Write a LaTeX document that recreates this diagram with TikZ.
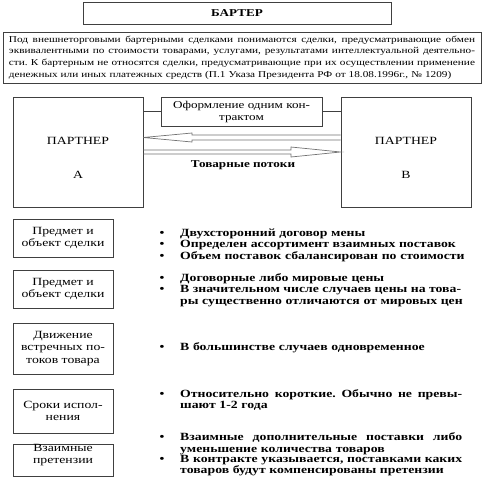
\documentclass[tikz,border=0pt]{standalone}
\usepackage{fontspec}
\setmainfont{Liberation Serif}[FakeStretch=1.25]
\newcommand{\jl}[2]{\makebox[#1][s]{\frenchspacing\spaceskip=\fontdimen2\font plus 1fil\relax #2}}
\begin{document}
\begin{tikzpicture}[x=1pt,y=-1pt,
  box/.style={draw=black!75, line width=0.8pt, inner sep=0pt, font=\fontsize{11}{12}\selectfont, align=center},
  txt/.style={inner sep=0pt, font=\fontsize{11}{12}\selectfont, align=center},
  btxt/.style={inner sep=0pt, font=\fontsize{11}{11.5}\selectfont\bfseries, anchor=base west, text width=300pt, align=left},
  bdot/.style={inner sep=0pt, font=\fontsize{11}{12}\selectfont\bfseries, anchor=base},
  conn/.style={draw=black!75, line width=0.8pt},
  flow/.style={draw=black!55, line width=0.7pt, line join=miter},
]
\useasboundingbox[fill=white] (0,0) rectangle (493,479);

% title
\node[box, minimum width=308pt, minimum height=22pt, font=\fontsize{10.5}{12}\selectfont\bfseries] (title) at (237,13) {БАРТЕР};

% definition
\node[box, minimum width=478pt, minimum height=51pt, text width=466pt, align=left, font=\fontsize{9}{11.6}\selectfont] (def) at (242,57.5)
{\jl{466pt}{Под внешнеторговыми бартерными сделками понимаются сделки, предусматривающие обмен}\\
\jl{466pt}{эквивалентными по стоимости товарами, услугами, результатами интеллектуальной деятельно-}\\
\jl{466pt}{сти. К бартерным не относятся сделки, предусматривающие при их осуществлении применение}\\
денежных или иных платежных средств (П.1 Указа Президента РФ от 18.08.1996г., № 1209)};

% partners
\node[box, minimum width=130pt, minimum height=110pt] (pA) at (78,152) {};
\node[box, minimum width=130pt, minimum height=110pt] (pB) at (406,152) {};
\node[txt] (pA1) at (78,141) {ПАРТНЕР};
\node[txt] (pA2) at (78,175) {А};
\node[txt] (pB1) at (406,141) {ПАРТНЕР};
\node[txt] (pB2) at (406,175) {В};

% contract
\node[box, minimum width=161pt, minimum height=29pt, font=\fontsize{10.5}{12}\selectfont] (contract) at (241.5,111.5) {Оформление одним кон-\\трактом};
\draw[conn] (contract.west) -- (contract.west -| pA.east);
\draw[conn] (contract.east) -- (contract.east -| pB.west);

% flows
\coordinate (ut) at (pA.east |- 0,137.5);
\coordinate (lt) at (pB.west |- 0,152);
\draw[flow] (pB.west |- 0,135) -- (192,135) -- (192,133) -- (ut) -- (192,142) -- (192,140) -- (pB.west |- 0,140);
\draw[flow] (pA.east |- 0,150) -- (291,150) -- (291,147) -- (lt) -- (291,157) -- (291,154) -- (pA.east |- 0,154);
\node[txt, font=\fontsize{10.5}{12}\selectfont\bfseries] (flowlbl) at (243,165) {Товарные потоки};

% rows
\node[box, minimum width=100pt, minimum height=38pt] (r1) at (63,238) {Предмет и\\объект сделки};
\node[box, minimum width=100pt, minimum height=38pt] (r2) at (63,289) {Предмет и\\объект сделки};
\node[box, minimum width=100pt, minimum height=51pt, font=\fontsize{11}{12.5}\selectfont] (r3) at (63,348.5) {Движение\\встречных по-\\токов товара};
\node[box, minimum width=100pt, minimum height=44pt] (r4) at (63,411) {Сроки испол-\\нения};
\node[box, minimum width=100pt, minimum height=32pt] (r5) at (63,460) {};
\node[txt] (r5t) at (63,455.5) {Взаимные\\претензии};

% bullets row 1
\node[bdot] (d11) at (162,236) {•};
\node[btxt] (b11) at (180,236) {Двухсторонний договор мены};
\node[bdot] (d12) at (162,247.5) {•};
\node[btxt] (b12) at (180,247.5) {Определен ассортимент взаимных поставок};
\node[bdot] (d13) at (162,259) {•};
\node[btxt] (b13) at (180,259) {Объем поставок сбалансирован по стоимости};

% bullets row 2
\node[bdot] (d21) at (162,281) {•};
\node[btxt] (b21) at (180,281) {Договорные либо мировые цены};
\node[bdot] (d22) at (162,292.5) {•};
\node[btxt] (b22) at (180,292.5) {\jl{280pt}{В значительном числе случаев цены на това-}\\ры существенно отличаются от мировых цен};

% bullets row 3
\node[bdot] (d31) at (162,350) {•};
\node[btxt] (b31) at (180,350) {В большинстве случаев одновременное};

% bullets row 4
\node[bdot] (d41) at (162,397) {•};
\node[btxt] (b41) at (180,397) {\jl{282pt}{Относительно короткие. Обычно не превы-}\\шают 1-2 года};

% bullets row 5
\node[bdot] (d51) at (162,440.5) {•};
\node[btxt] (b51) at (180,440.5) {\jl{282pt}{Взаимные дополнительные поставки либо}\\уменьшение количества товаров};
\node[bdot] (d52) at (162,462) {•};
\node[btxt] (b52) at (180,462) {\jl{282pt}{В контракте указывается, поставками каких}\\товаров будут компенсированы претензии};
\end{tikzpicture}
\end{document}
